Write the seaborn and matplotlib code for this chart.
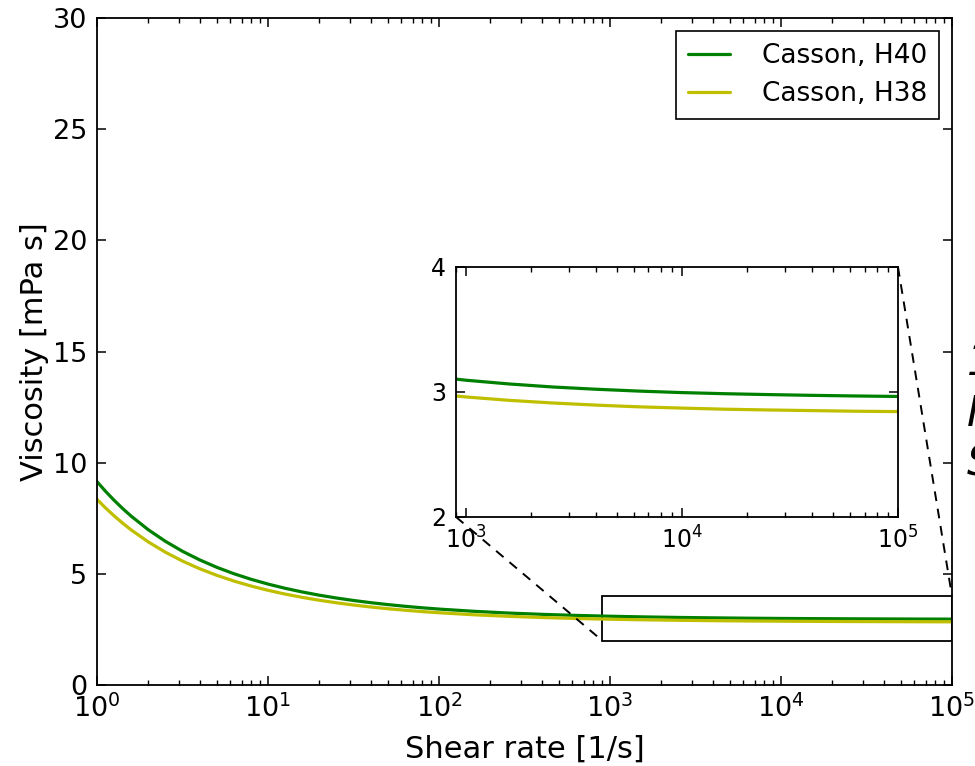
import pandas as pd
import seaborn as sns
import matplotlib.pyplot as plt
from mpl_toolkits.axes_grid1.inset_locator import mark_inset

# shear rates: denser in the first two decades where the curve bends
shear_rate = [1, 1.122, 1.259, 1.413, 1.585, 1.995, 2.512, 3.162, 3.981, 5.012,
              6.310, 7.943, 10, 12.59, 15.85, 19.95, 25.12, 31.62, 39.81, 50.12,
              63.10, 79.43, 100, 158.5, 251.2, 398.1, 631.0,
              1000, 1585, 2512, 3981, 6310,
              10000, 15850, 25120, 39810, 63100,
              100000]

visc_h40 = [9.148, 8.711, 8.309, 7.937, 7.594, 6.984, 6.463, 6.015, 5.630, 5.296,
            5.008, 4.758, 4.541, 4.351, 4.186, 4.041, 3.914, 3.803, 3.705, 3.619,
            3.543, 3.475, 3.416, 3.318, 3.240, 3.180, 3.132,
            3.094, 3.064, 3.040, 3.022, 3.007,
            2.995, 2.986, 2.979, 2.973, 2.968,
            2.964]

visc_h38 = [8.350, 7.964, 7.609, 7.280, 6.976, 6.436, 5.974, 5.575, 5.232, 4.936,
            4.678, 4.455, 4.260, 4.091, 3.943, 3.813, 3.699, 3.599, 3.511, 3.433,
            3.365, 3.304, 3.251, 3.162, 3.092, 3.037, 2.994,
            2.960, 2.933, 2.912, 2.895, 2.881,
            2.871, 2.862, 2.856, 2.851, 2.846,
            2.843]

labels = ["Casson, H40", "Casson, H38"]
colors = {"Casson, H40": (0, 0.5, 0), "Casson, H38": (0.75, 0.75, 0)}

df = pd.concat([
    pd.DataFrame({"rate": shear_rate, "visc": visc_h40, "model": labels[0]}),
    pd.DataFrame({"rate": shear_rate, "visc": visc_h38, "model": labels[1]}),
])

sns.set_theme(style="white")
plt.rcParams.update({
    "font.family": ["DejaVu Sans"],
    "text.color": "black",
    "axes.labelcolor": "black",
    "axes.edgecolor": "black",
    "axes.linewidth": 1.3,
    "xtick.direction": "in",
    "ytick.direction": "in",
    "xtick.top": True,
    "ytick.right": True,
    "xtick.bottom": True,
    "ytick.left": True,
    "xtick.major.size": 6.5,
    "ytick.major.size": 6.5,
    "xtick.minor.size": 3.5,
    "ytick.minor.size": 3.5,
    "xtick.major.width": 1.1,
    "ytick.major.width": 1.1,
    "xtick.minor.width": 1.0,
    "ytick.minor.width": 1.0,
    "xtick.color": "black",
    "ytick.color": "black",
    "xtick.labelsize": 19.5,
    "ytick.labelsize": 19.5,
    "xtick.major.pad": 7,
    "ytick.major.pad": 7,
    "mathtext.default": "regular",
})

fig = plt.figure(figsize=(9.75, 7.66), dpi=100)
ax = fig.add_axes([0.0995, 0.1057, 0.8769, 0.8708])

sns.lineplot(data=df, x="rate", y="visc", hue="model", hue_order=labels,
             palette=colors, linewidth=2.3, ax=ax)
ax.set_xscale("log")
ax.set_xlim(1, 1e5)
ax.set_ylim(0, 30)
ax.set_yticks([0, 5, 10, 15, 20, 25, 30])
ax.set_xlabel("Shear rate [1/s]", fontsize=22, labelpad=8)
ax.set_ylabel("Viscosity [mPa s]", fontsize=22, labelpad=3)
ax.tick_params(which="both", top=True, right=True)

leg = ax.legend(loc="upper right", fontsize=19, frameon=True, fancybox=False,
                framealpha=1, edgecolor="black", handlelength=1.6,
                handletextpad=1.2, borderpad=0.45, labelspacing=0.45,
                borderaxespad=0.5)
leg.get_frame().set_linewidth(1.2)
for line in leg.get_lines():
    line.set_linewidth(2.3)

# zoomed inset
axins = fig.add_axes([0.4677, 0.3251, 0.4533, 0.3264])
sns.lineplot(data=df, x="rate", y="visc", hue="model", hue_order=labels,
             palette=colors, linewidth=2.3, ax=axins, legend=False)
axins.set_xscale("log")
axins.set_xlim(900, 1e5)
axins.set_ylim(2, 4)
axins.set_yticks([2, 3, 4])
axins.set_xlabel("")
axins.set_ylabel("")
axins.tick_params(which="both", top=True, right=True, labelsize=17)

pp, p1, p2 = mark_inset(ax, axins, loc1=1, loc2=3, fc="none", ec="black", lw=1.3)
for p in (p1, p2):
    p.set_linestyle((0, (5, 4)))
    p.set_linewidth(1.4)

# text running off the right edge
fig.text(0.992, 0.46, "1\nF\nS", fontsize=30, style="italic",
         ha="left", va="center", linespacing=1.25)

fig.savefig("out.png", dpi=100)
